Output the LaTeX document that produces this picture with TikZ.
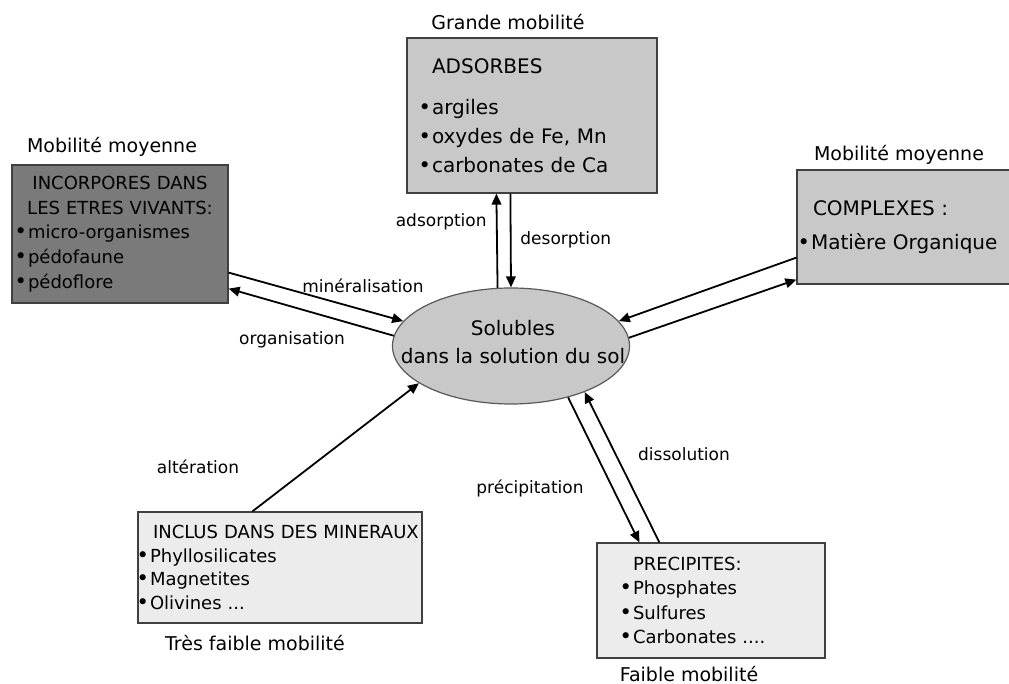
\documentclass[tikz,border=0pt]{standalone}
\usepackage{fontspec}
\setmainfont{DejaVu Sans}
\usetikzlibrary{shapes.geometric,arrows.meta,calc}
\definecolor{darkbox}{HTML}{7A7A7A}
\definecolor{midbox}{HTML}{C8C8C8}
\definecolor{lightbox}{HTML}{ECECEC}
\newcommand{\blt}{\leavevmode\llap{{\fontsize{10.5}{10}\selectfont\textbullet}\hspace{0.5pt}}}
\newcommand{\ctr}[1]{\makebox[\linewidth][c]{#1}}
\begin{document}
\begin{tikzpicture}[x=0.5pt, y=-0.5pt,
  box/.style = {draw=black!75, line width=0.6pt, align=left, inner ysep=0pt},
  arr/.style = {-{Triangle[length=5.5pt,width=4.8pt]}, line width=0.9pt},
  lbl/.style = {font=\fontsize{8.5}{10}\selectfont, inner sep=1pt},
  mob/.style = {font=\fontsize{9.5}{11}\selectfont, inner sep=1pt}
  ]
  \path[use as bounding box, fill=white] (0,0) rectangle (1009,684);

  % central pool
  \node[ellipse, draw=black!65, line width=0.6pt, fill=midbox,
    minimum width=118.5pt, minimum height=58pt, inner sep=0pt] (sol) at (511,346) {};
  \node[font=\fontsize{10}{14}\selectfont, align=center] (soltxt) at (513,342)
    {Solubles\\dans la solution du sol};

  % compartments
  \node[box, fill=darkbox, text width=92pt, inner xsep=8pt, minimum height=69pt,
    font=\fontsize{9}{12.4}\selectfont] (inc) at (120,234)
    {\ctr{INCORPORES DANS}\\\ctr{LES ETRES VIVANTS:}\\
     \blt micro-organismes\\\blt pédofaune\\\blt pédoflore};
  \node[box, fill=midbox, text width=100pt, inner xsep=12.5pt, minimum height=77.5pt,
    font=\fontsize{10}{14.5}\selectfont] (ads) at (532,115.5)
    {ADSORBES\\[6pt]\blt argiles\\\blt oxydes de Fe, Mn\\\blt carbonates de Ca};
  \node[box, fill=midbox, text width=93.5pt, inner xsep=7pt, minimum height=57pt,
    font=\fontsize{10}{17}\selectfont] (cpx) at (904.5,227)
    {\hspace*{1pt}COMPLEXES :\\\blt Matière Organique};
  \node[box, fill=lightbox, text width=130pt, inner xsep=6pt, minimum height=55.5pt,
    font=\fontsize{9}{11.8}\selectfont] (min) at (280,567.5)
    {\hspace*{1.5pt}\mbox{INCLUS DANS DES MINERAUX}\\\blt Phyllosilicates\\\blt Magnetites\\\blt Olivines ...};
  \node[box, fill=lightbox, text width=78pt, inner xsep=18pt, minimum height=57.5pt,
    font=\fontsize{9}{12.3}\selectfont] (pre) at (711,600.5)
    {PRECIPITES:\\\blt Phosphates\\\blt Sulfures\\\blt Carbonates ....};

  % mobility captions
  \node[mob] (mob-ads) at (508,22) {Grande mobilité};
  \node[mob] (mob-inc) at (112,147) {Mobilité moyenne};
  \node[mob] (mob-cpx) at (899,155) {Mobilité moyenne};
  \node[mob] (mob-min) at (255,643) {Très faible mobilité};
  \node[mob] (mob-pre) at (689,674) {Faible mobilité};

  % exchanges
  \draw[arr] ($(inc.south east)+(0,-31)$) -- (sol.167);
  \draw[arr] (sol.175.6) -- ($(inc.south east)+(0,-15)$);
  \draw[arr] (sol.103.6) -- ($(ads.south west)+(90,0)$);
  \draw[arr] ($(ads.south west)+(104,0)$) -- (sol.90);
  \draw[arr] ($(cpx.south west)+(0,-27)$) -- (sol.13.6);
  \draw[arr] (sol.4.8) -- ($(cpx.south west)+(0,-5)$);
  \draw[arr] ($(min.north west)+(115,0)$) -- (sol.202);
  \draw[arr] (sol.-42.4) -- ($(pre.north west)+(43,0)$);
  \draw[arr] ($(pre.north west)+(63,0)$) -- (sol.-32.6);

  \node[lbl] (l-min) at (363,286) {minéralisation};
  \node[lbl] (l-org) at (292,340) {organisation};
  \node[lbl, anchor=east] (l-ads) at (489,222) {adsorption};
  \node[lbl, anchor=west] (l-des) at (518,240) {desorption};
  \node[lbl] (l-alt) at (198,467) {altération};
  \node[lbl] (l-pre) at (530,488) {précipitation};
  \node[lbl] (l-dis) at (684,454) {dissolution};
\end{tikzpicture}
\end{document}
